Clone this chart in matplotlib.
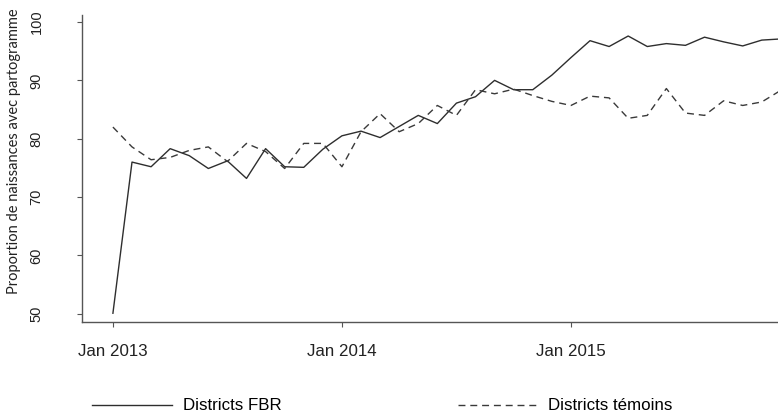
import numpy as np
import matplotlib
matplotlib.use("Agg")
import matplotlib.pyplot as plt

# mois depuis janvier 2013 (0 = Jan 2013, 35 = Dec 2015)
mois = np.arange(36)

fbr = [50.1, 76.0, 75.2, 78.3, 77.1, 74.9, 76.2, 73.2, 78.3, 75.2, 75.1, 78.2,
       80.5, 81.3, 80.2, 82.1, 84.0, 82.6, 86.1, 87.2, 90.0, 88.4, 88.4, 90.9,
       93.9, 96.8, 95.8, 97.6, 95.8, 96.3, 96.0, 97.4, 96.6, 95.9, 96.9, 97.1]

temoins = [82.0, 78.6, 76.4, 76.8, 78.0, 78.6, 76.1, 79.2, 77.8, 74.9, 79.2, 79.2,
           75.2, 81.2, 84.3, 81.2, 82.6, 85.7, 84.0, 88.4, 87.7, 88.5, 87.4, 86.4,
           85.7, 87.3, 87.0, 83.5, 84.0, 88.6, 84.4, 84.0, 86.5, 85.7, 86.3, 88.3]

tick_pos = [0, 12, 24]
tick_labels = ["Jan 2013", "Jan 2014", "Jan 2015"]
y_ticks = [50, 60, 70, 80, 90, 100]

police = ["Liberation Sans", "DejaVu Sans"]

fig = plt.figure(figsize=(7.78, 4.17), dpi=100)
ax = fig.add_axes([82 / 778, 1 - 322 / 417, 1 - 82 / 778, (322 - 15) / 417])

l1, = ax.plot(mois, fbr, color="#2e2e2e", lw=1.0, label="Districts FBR")
l2, = ax.plot(mois, temoins, color="#3a3a3a", lw=1.0, linestyle=(0, (5, 3.5)),
              label="Districts témoins")

ax.set_xlim(-1.62, 34.85)
ax.set_ylim(48.6, 101.2)

for s in ["top", "right"]:
    ax.spines[s].set_visible(False)
for s in ["left", "bottom"]:
    ax.spines[s].set_color("#555555")
    ax.spines[s].set_linewidth(1.0)

ax.set_yticks(y_ticks)
ax.set_yticklabels([str(v) for v in y_ticks], rotation=90, va="center",
                   family=police, fontsize=10.5, color="#222222")
ax.tick_params(axis="y", length=3.6, width=0.8, color="#555555", pad=24)

ax.set_xticks(tick_pos)
ax.set_xticklabels(tick_labels, family=police, fontsize=12.2, color="#222222")
ax.tick_params(axis="x", length=3.6, width=0.8, color="#555555", pad=12)

fig.text(14 / 778, 1 - 151 / 417, "Proportion de naissances avec partogramme",
         rotation=90, ha="center", va="center", fontsize=10.5,
         family=["Lato", "DejaVu Sans"], color="#222222")

fig.legend(handles=[l1, l2], loc="center left", ncol=2,
           bbox_to_anchor=(92 / 778, 1 - 406 / 417), frameon=False,
           borderpad=0, borderaxespad=0, handlelength=4.7, handletextpad=0.65,
           columnspacing=10.4, prop={"family": police, "size": 12.2})

fig.savefig("out.png", dpi=100)
